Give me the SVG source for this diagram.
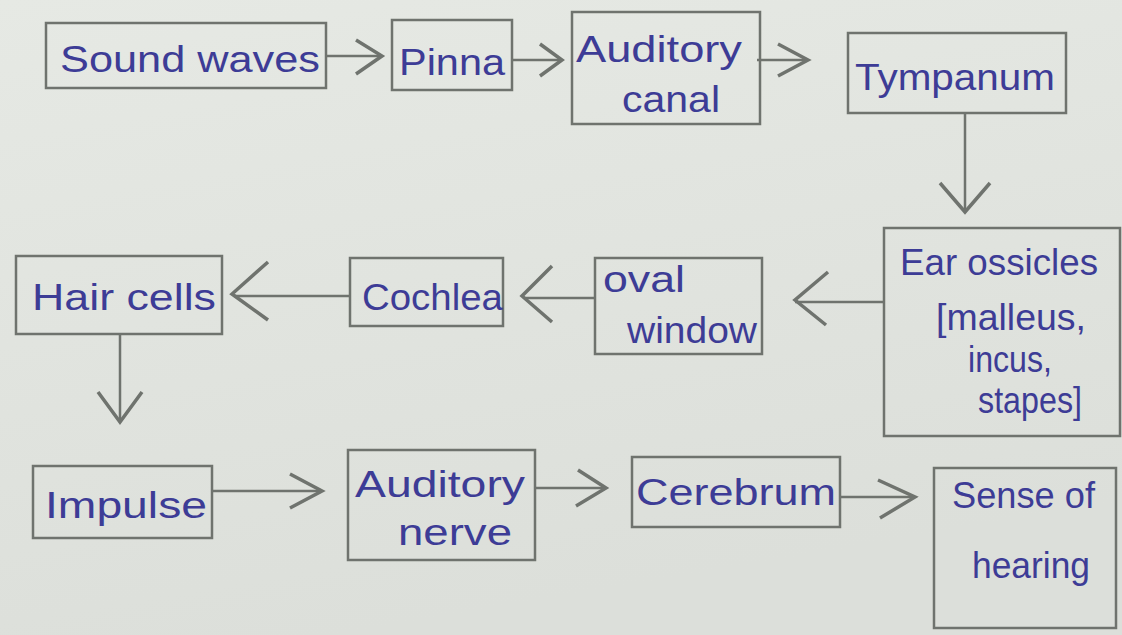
<svg xmlns="http://www.w3.org/2000/svg" width="1122" height="635" viewBox="0 0 1122 635">
<defs>
<style>
.box{fill:none;stroke:#6f736e;stroke-width:2.5}
.t{font-family:"Liberation Sans",Arial,sans-serif;font-size:36px;fill:#3d3c96}
.c line,.c polyline{stroke:#6f736e;stroke-width:2.5;fill:none}
.c polyline{stroke-width:3.5}
</style>
<linearGradient id="bg" x1="0" y1="0" x2="0.3" y2="1">
<stop offset="0" stop-color="#e6e9e4"/>
<stop offset="1" stop-color="#dcdfda"/>
</linearGradient>
</defs>
<rect width="1122" height="635" fill="url(#bg)"/>
<g id="n-sound"><rect class="box" x="46" y="23" width="280" height="65"/><text class="t" x="60" y="72" textLength="260" lengthAdjust="spacingAndGlyphs">Sound waves</text></g>
<g id="n-pinna"><rect class="box" x="392" y="20" width="120" height="70"/><text class="t" x="399" y="75" textLength="106" lengthAdjust="spacingAndGlyphs">Pinna</text></g>
<g id="n-canal"><rect class="box" x="572" y="12" width="188" height="112"/><text class="t" x="576" y="62" textLength="166" lengthAdjust="spacingAndGlyphs">Auditory</text><text class="t" x="622" y="112" textLength="98" lengthAdjust="spacingAndGlyphs">canal</text></g>
<g id="n-tympanum"><rect class="box" x="848" y="33" width="218" height="80"/><text class="t" x="855" y="90" textLength="200" lengthAdjust="spacingAndGlyphs">Tympanum</text></g>
<g id="n-ossicles"><rect class="box" x="884" y="228" width="236" height="208"/><text class="t" x="900" y="275" textLength="198" lengthAdjust="spacingAndGlyphs">Ear ossicles</text><text class="t" x="936" y="330" textLength="150" lengthAdjust="spacingAndGlyphs">[malleus,</text><text class="t" x="968" y="372" textLength="84" lengthAdjust="spacingAndGlyphs">incus,</text><text class="t" x="978" y="413" textLength="104" lengthAdjust="spacingAndGlyphs">stapes]</text></g>
<g id="n-oval"><rect class="box" x="595" y="258" width="167" height="96"/><text class="t" x="603" y="292" textLength="82" lengthAdjust="spacingAndGlyphs">oval</text><text class="t" x="627" y="343" textLength="130" lengthAdjust="spacingAndGlyphs">window</text></g>
<g id="n-cochlea"><rect class="box" x="350" y="258" width="153" height="68"/><text class="t" x="362" y="310" textLength="141" lengthAdjust="spacingAndGlyphs">Cochlea</text></g>
<g id="n-hair"><rect class="box" x="16" y="256" width="206" height="78"/><text class="t" x="32" y="310" textLength="184" lengthAdjust="spacingAndGlyphs">Hair cells</text></g>
<g id="n-impulse"><rect class="box" x="33" y="466" width="179" height="72"/><text class="t" x="45" y="518" textLength="162" lengthAdjust="spacingAndGlyphs">Impulse</text></g>
<g id="n-nerve"><rect class="box" x="348" y="450" width="187" height="110"/><text class="t" x="355" y="497" textLength="170" lengthAdjust="spacingAndGlyphs">Auditory</text><text class="t" x="398" y="545" textLength="114" lengthAdjust="spacingAndGlyphs">nerve</text></g>
<g id="n-cerebrum"><rect class="box" x="632" y="457" width="208" height="70"/><text class="t" x="636" y="505" textLength="200" lengthAdjust="spacingAndGlyphs">Cerebrum</text></g>
<g id="n-hearing"><rect class="box" x="934" y="468" width="182" height="160"/><text class="t" x="952" y="508" textLength="143" lengthAdjust="spacingAndGlyphs">Sense of</text><text class="t" x="972" y="578" textLength="118" lengthAdjust="spacingAndGlyphs">hearing</text></g>
<g id="connectors" class="c">
<line x1="326" y1="56" x2="380" y2="56"/><polyline points="356,40 382,56 356,74"/>
<line x1="512" y1="60" x2="560" y2="60"/><polyline points="540,44 562,60 540,76"/>
<line x1="757" y1="60" x2="806" y2="60"/><polyline points="778,44 808,60 778,76"/>
<line x1="965" y1="113" x2="965" y2="210"/><polyline points="940,183 965,212 990,183"/>
<line x1="884" y1="302" x2="795" y2="302"/><polyline points="828,272 795,300 826,325"/>
<line x1="594" y1="298" x2="524" y2="298"/><polyline points="552,266 522,296 552,322"/>
<line x1="350" y1="296" x2="234" y2="296"/><polyline points="268,262 232,294 268,320"/>
<line x1="120" y1="334" x2="120" y2="420"/><polyline points="98,392 120,422 142,392"/>
<line x1="212" y1="491" x2="322" y2="491"/><polyline points="290,474 322,491 290,508"/>
<line x1="535" y1="488" x2="606" y2="488"/><polyline points="578,470 606,488 576,506"/>
<line x1="840" y1="497" x2="915" y2="497"/><polyline points="878,480 915,497 880,518"/>
</g>
</svg>
